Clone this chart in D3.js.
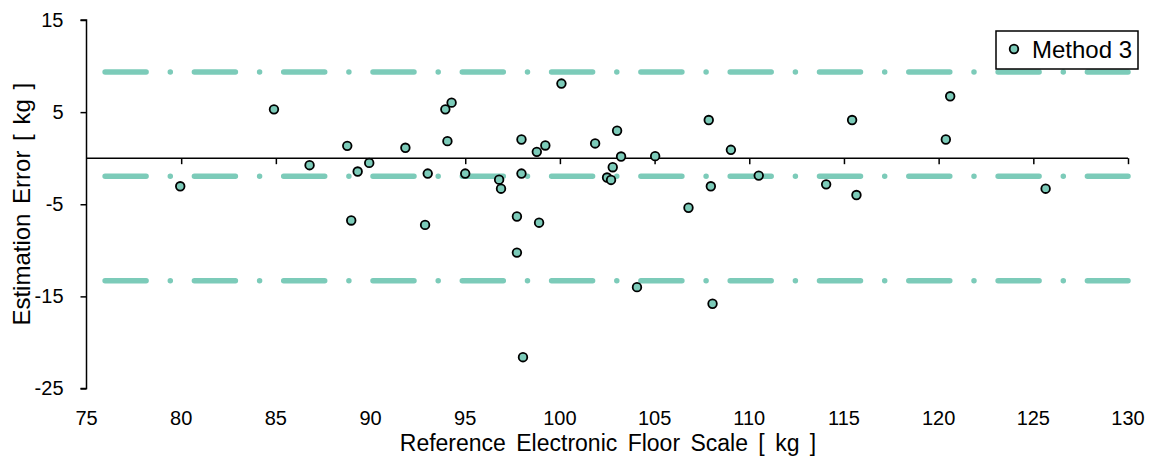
<!DOCTYPE html>
<html>
<head>
<meta charset="utf-8">
<script src="https://cdn.jsdelivr.net/npm/d3@7"></script>
<style>
  html, body { margin: 0; padding: 0; background: #fff; }
  svg { display: block; }
  text { font-family: "Liberation Sans", Arial, sans-serif; fill: #000; }
</style>
</head>
<body>
<svg id="chart" width="1161" height="458"></svg>
<script>
// ---- data ----
const seriesName = "Method 3";
const referenceKg = [79.95, 84.9, 86.78, 88.77, 89.32, 89.93, 88.98, 91.84, 93.02, 92.88,
  93.95, 94.28, 94.06, 95.0, 96.79, 96.89, 97.97, 97.97, 97.73, 98.9,
  97.73, 98.78, 99.23, 100.08, 101.86, 103.02, 103.23, 102.79, 102.49, 102.7,
  105.03, 106.79, 107.86, 107.97, 109.03, 110.5, 104.07, 98.05, 108.06, 114.06,
  115.43, 115.66, 120.38, 120.61, 125.65];
const errorKg = [-3.05, 5.3, -0.76, 1.34, -1.45, -0.51, -6.76, 1.13, -1.67, -7.24,
  5.3, 6.03, 1.85, -1.67, -2.33, -3.31, 2.03, -1.67, -6.33, -7.0,
  -10.25, 0.69, 1.38, 8.1, 1.6, 2.98, 0.18, -0.98, -2.1, -2.36,
  0.22, -5.38, 4.14, -3.05, 0.91, -1.89, -14.0, -21.6, -15.8, -2.84,
  4.14, -4.0, 2.03, 6.72, -3.31];
const meanBias = -1.95;
const upperLoA = 9.35;
const lowerLoA = -13.3;
const xTicks = [75, 80, 85, 90, 95, 100, 105, 110, 115, 120, 125, 130];
const yTicks = [15, 5, -5, -15, -25];
const xDomain = [75, 130];
const yDomain = [-25, 15];
const lineStartX = 75.85;

// ---- layout ----
const svg = d3.select("#chart");
const color = "#7ccbb9";
const x = d3.scaleLinear().domain(xDomain).range([86.5, 1128]);
const y = d3.scaleLinear().domain(yDomain).range([388.5, 20]);

// reference lines (bias and limits of agreement)
const refLines = [upperLoA, meanBias, lowerLoA];
svg.append("g").selectAll("line").data(refLines).join("line")
  .attr("x1", x(lineStartX) + 2.5).attr("x2", x(xDomain[1]))
  .attr("y1", d => y(d)).attr("y2", d => y(d))
  .attr("stroke", color).attr("stroke-width", 5.5)
  .attr("stroke-linecap", "round")
  .attr("stroke-dasharray", "41 24.2 0 24.1");

// zero line with x ticks
const xAxis = d3.axisBottom(x).tickValues(xTicks).tickSize(6).tickFormat("");
const gx = svg.append("g").attr("transform", `translate(0,${y(0)})`).call(xAxis);
gx.select(".domain").attr("stroke", "#000").attr("stroke-width", 1.5)
  .attr("d", `M${x(xDomain[0])},0H${x(xDomain[1])}`);
gx.selectAll(".tick line").attr("stroke", "#000").attr("stroke-width", 1.5);
gx.selectAll(".tick").filter(d => d === xDomain[0]).remove();

// x tick labels at bottom
svg.append("g").selectAll("text").data(xTicks).join("text")
  .attr("x", d => x(d)).attr("y", 425)
  .attr("text-anchor", "middle").style("font-size", "20px")
  .text(d => String(d));

// y axis
const yAxis = d3.axisLeft(y).tickValues(yTicks).tickSize(6).tickPadding(17)
  .tickFormat(d => String(d));
const gy = svg.append("g").attr("transform", `translate(${x(xDomain[0])},0)`).call(yAxis);
gy.select(".domain").attr("stroke", "#000").attr("stroke-width", 1.5)
  .attr("d", `M-6,${y(15)}H0V${y(-25)}H-6`);
gy.selectAll(".tick line").attr("stroke", "#000").attr("stroke-width", 1.5);
gy.selectAll(".tick text").style("font-size", "20px").style("font-family", "'Liberation Sans', Arial, sans-serif").attr("fill", "#000");

// points
svg.append("g").selectAll("circle").data(referenceKg.map((v, i) => [v, errorKg[i]])).join("circle")
  .attr("cx", d => x(d[0])).attr("cy", d => y(d[1])).attr("r", 4.3)
  .attr("fill", color).attr("stroke", "#000").attr("stroke-width", 1.8);

// axis titles
svg.append("text").attr("x", 608).attr("y", 451).attr("text-anchor", "middle")
  .style("font-size", "23px").style("word-spacing", "4px")
  .text("Reference Electronic Floor Scale [ kg ]");
svg.append("text").attr("transform", `translate(30,${(y(15) + y(-25)) / 2}) rotate(-90)`)
  .attr("text-anchor", "middle").style("font-size", "24px").style("word-spacing", "3px")
  .text("Estimation Error [ kg ]");

// legend
const lg = svg.append("g");
lg.append("rect").attr("x", 996).attr("y", 31).attr("width", 142).attr("height", 38)
  .attr("fill", "#fff").attr("stroke", "#000").attr("stroke-width", 1.5);
lg.append("circle").attr("cx", 1014).attr("cy", 49).attr("r", 4.3)
  .attr("fill", color).attr("stroke", "#000").attr("stroke-width", 1.8);
lg.append("text").attr("x", 1032).attr("y", 58).style("font-size", "24px").text(seriesName);
</script>
</body>
</html>
